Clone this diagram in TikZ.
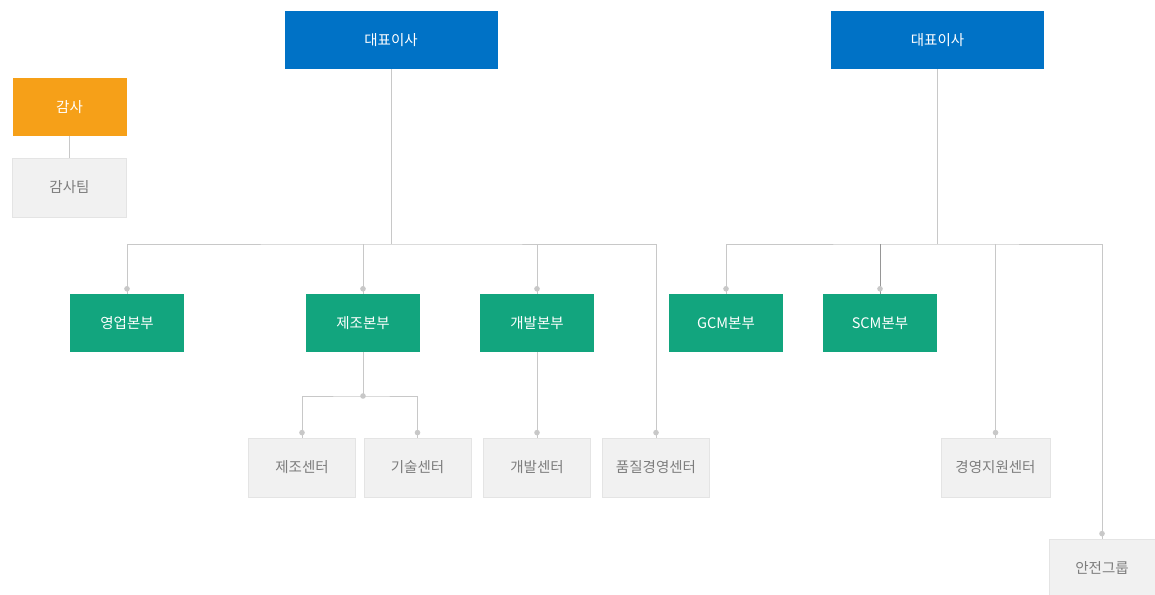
\documentclass[tikz,border=0pt]{standalone}
\usepackage{fontspec}
\setmainfont{Noto Sans CJK KR}
\definecolor{ceoblue}{RGB}{0,114,198}
\definecolor{auditorange}{RGB}{246,160,24}
\definecolor{divgreen}{RGB}{18,165,126}
\definecolor{unitfill}{RGB}{241,241,241}
\definecolor{unitedge}{RGB}{228,228,228}
\definecolor{unittext}{RGB}{125,125,125}
\definecolor{linkgray}{RGB}{200,200,200}
\definecolor{linkdark}{RGB}{150,150,150}
\tikzset{
  x=1pt, y=1pt,
  box/.style={rectangle, inner sep=0pt, font=\fontsize{14.5}{17}\selectfont},
  ceobox/.style={box, fill=ceoblue, text=white, minimum width=213pt, minimum height=58pt},
  auditbox/.style={box, fill=auditorange, text=white, minimum width=114pt, minimum height=58pt},
  divbox/.style={box, fill=divgreen, text=white, minimum width=114pt, minimum height=58pt},
  unitbox/.style={box, fill=unitfill, draw=unitedge, line width=0.8pt, text=unittext, minimum width=107pt, minimum height=59pt},
  link/.style={draw=linkgray, line width=1pt},
  linkd/.style={draw=linkdark, line width=1pt},
  dotmark/.style={fill=linkgray}
}
\begin{document}
\begin{tikzpicture}
\useasboundingbox (0,0) rectangle (1155,-594);
\fill[white] (0,0) rectangle (1155,-594);
% nodes
\node[ceobox] (ceo1) at (391,-40) {대표이사};
\node[ceobox] (ceo2) at (937.5,-40) {대표이사};
\node[auditbox] (audit) at (69.5,-107) {감사};
\node[unitbox, minimum width=114pt] (auditteam) at (69.5,-187.5) {감사팀};
\node[divbox] (sales) at (127,-323) {영업본부};
\node[divbox] (mfg) at (363,-323) {제조본부};
\node[divbox] (dev) at (537,-323) {개발본부};
\node[divbox] (gcm) at (726,-323) {GCM본부};
\node[divbox] (scm) at (880,-323) {SCM본부};
\node[unitbox] (mfgc) at (302,-467.5) {제조센터};
\node[unitbox] (tech) at (417.5,-467.5) {기술센터};
\node[unitbox] (devc) at (537,-467.5) {개발센터};
\node[unitbox] (qual) at (656,-467.5) {품질경영센터};
\node[unitbox, minimum width=109pt] (mgmt) at (995.5,-467.5) {경영지원센터};
\node[unitbox, minimum width=106pt, minimum height=58pt] (safety) at (1102,-568) {안전그룹};
% bus coordinates
\coordinate (b1) at (391,-244);
\coordinate (b2) at (937.5,-244);
\coordinate (j) at (363,-396);
% connectors
\draw[link] (audit) -- (auditteam);
\draw[link] (ceo1) -- (b1);
\draw[link] (sales.north) |- (b1) -| (qual.north);
\draw[link] (mfg.north) -- (mfg.north |- b1);
\draw[link] (dev.north) -- (dev.north |- b1);
\draw[link] (mfg) -- (j);
\draw[link] (mfgc.north) |- (j) -| (tech.north);
\draw[link] (dev) -- (devc);
\draw[link] (ceo2) -- (b2);
\draw[link] (gcm.north) |- (b2) -| (safety.north);
\draw[linkd] (scm.north) -- (scm.north |- b2);
\draw[link] (mgmt.north) -- (mgmt.north |- b2);
% dots
\foreach \n in {sales,mfg,dev,gcm,scm,mfgc,tech,devc,qual,mgmt,safety}
  \fill[dotmark] ([yshift=5pt]\n.north) circle (2.8pt);
\fill[dotmark] (j) circle (2.8pt);
\end{tikzpicture}
\end{document}
